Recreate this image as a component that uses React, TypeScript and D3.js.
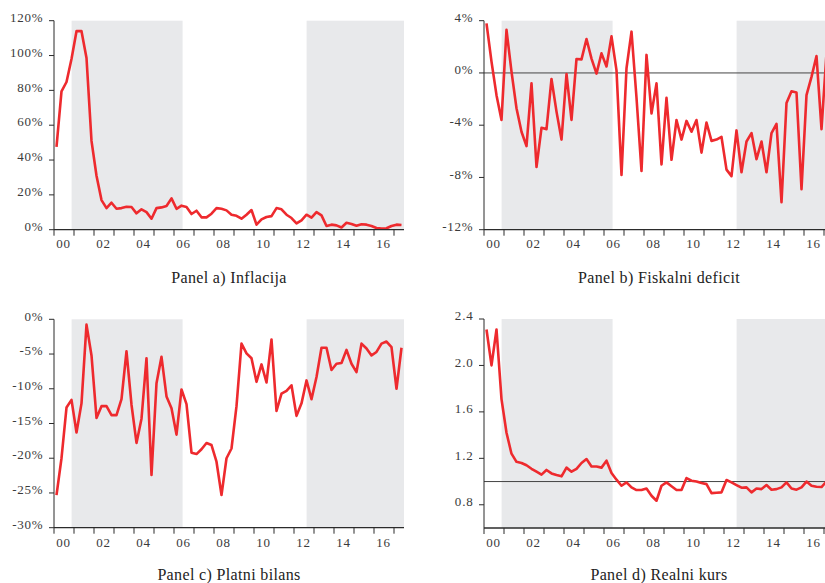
import React from "react";
import * as d3 from "d3";

// Quarterly observations starting 2000Q1
const startYear = 2000;
const yearTicks = d3.range(2000, 2018);
const yearLabels = ["00", "02", "04", "06", "08", "10", "12", "14", "16"];
const shadedPeriods: [number, number][] = [
  [2000.88, 2006.43],
  [2012.63, 2017.5],
];

const inflation = [47.5, 79.4, 84.8, 98, 114, 114, 98.6, 51, 31, 17, 12.4, 15.5, 12, 12.4, 13.2, 13, 9.4, 11.7, 10.1, 6.3, 12.4, 12.8, 13.6, 18, 12, 13.8, 13, 9, 10.9, 7.1, 7.1, 9.2, 12.4, 12, 11.1, 8.6, 8, 6.3, 8.6, 11.3, 2.9, 5.9, 7.3, 7.8, 12.4, 11.7, 8.6, 6.7, 3.6, 5.4, 8.6, 6.9, 10.1, 8.2, 2.1, 2.9, 2.5, 1.3, 4, 3.3, 2.3, 3.1, 2.9, 2.1, 1, 0.6, 0.8, 2.1, 2.9, 2.7];
const fiscalDeficit = [3.8, 0.87, -1.7, -3.6, 3.3, 0.1, -2.7, -4.5, -5.6, -0.8, -7.2, -4.2, -4.3, -0.46, -2.96, -5.1, -0.08, -3.6, 1.07, 1.04, 2.6, 1.1, -0.05, 1.5, 0.5, 2.8, 0.2, -7.8, 0.36, 3.16, -1.9, -7.5, 1.38, -3.1, -0.8, -7.0, -1.9, -6.65, -3.6, -5.1, -3.67, -4.5, -3.6, -6.1, -3.8, -5.2, -5.1, -4.9, -7.4, -7.9, -4.4, -7.6, -5.25, -4.6, -6.6, -5.25, -7.6, -4.6, -3.9, -9.9, -2.3, -1.4, -1.5, -8.9, -1.7, -0.3, 1.3, -4.3, 1.5];
const currentAccount = [-25.3, -20, -12.7, -11.6, -16.3, -12.1, -0.77, -5.2, -14.2, -12.5, -12.5, -13.8, -13.8, -11.5, -4.6, -12.3, -17.8, -14.3, -5.6, -22.4, -9.2, -5.4, -11.1, -12.8, -16.6, -10.1, -12.2, -19.2, -19.4, -18.7, -17.8, -18.1, -20.5, -25.3, -20, -18.6, -12.5, -3.5, -4.9, -5.6, -9.0, -6.5, -9.1, -2.9, -13.2, -10.7, -10.3, -9.5, -13.9, -12.1, -8.8, -11.5, -8.3, -4.1, -4.1, -7.3, -6.4, -6.3, -4.4, -6.4, -7.6, -3.5, -4.2, -5.2, -4.7, -3.5, -3.2, -4.0, -10.0, -4.1];
const realExchangeRate = [2.31, 2.0, 2.31, 1.71, 1.42, 1.24, 1.17, 1.16, 1.14, 1.11, 1.085, 1.06, 1.1, 1.07, 1.056, 1.045, 1.12, 1.085, 1.11, 1.16, 1.194, 1.13, 1.13, 1.12, 1.18, 1.073, 1.016, 0.964, 0.993, 0.95, 0.927, 0.927, 0.94, 0.878, 0.835, 0.964, 0.993, 0.96, 0.927, 0.927, 1.03, 1.007, 1.0, 0.987, 0.978, 0.9, 0.904, 0.907, 1.013, 0.993, 0.97, 0.947, 0.95, 0.907, 0.94, 0.935, 0.97, 0.93, 0.935, 0.95, 0.993, 0.94, 0.93, 0.95, 1.0, 0.964, 0.955, 0.953, 1.0];

const ticksA = [0, 20, 40, 60, 80, 100, 120];
const ticksB = [-12, -8, -4, 0, 4];
const ticksC = [-30, -25, -20, -15, -10, -5, 0];
const ticksD = [0.8, 1.2, 1.6, 2.0, 2.4];

const titles = ["Panel a) Inflacija", "Panel b) Fiskalni deficit", "Panel c) Platni bilans", "Panel d) Realni kurs"];

type PanelDef = {
  x0: number; x1: number; yTop: number; yBot: number;
  domain: [number, number]; ticks: number[]; fmt: (v: number) => string;
  data: number[]; title: string; ref?: number; labelY: number; titleY: number;
};

const pct = (v: number) => `${v}%`;

const panels: PanelDef[] = [
  { x0: 54, x1: 404, yTop: 20.7, yBot: 229.7, domain: [0, 120], ticks: ticksA, fmt: pct, data: inflation, title: titles[0], labelY: 248.3, titleY: 282.5 },
  { x0: 484, x1: 834, yTop: 20.7, yBot: 229.7, domain: [-12, 4], ticks: ticksB, fmt: pct, data: fiscalDeficit, title: titles[1], ref: 0, labelY: 248.3, titleY: 282.5 },
  { x0: 54, x1: 404, yTop: 319.3, yBot: 527.7, domain: [-30, 0], ticks: ticksC, fmt: pct, data: currentAccount, title: titles[2], labelY: 546.5, titleY: 579.8 },
  { x0: 484, x1: 834, yTop: 319, yBot: 528, domain: [0.6, 2.4], ticks: ticksD, fmt: (v) => v.toFixed(1), data: realExchangeRate, title: titles[3], ref: 1, labelY: 546.5, titleY: 579.8 },
];

const TEXT = "#3a3a3a";
const AXIS = "#2b2b2b";
const RED = "#ee2a2e";
const SHADE = "#e8e9eb";
const FONT = "'Liberation Serif', 'Times New Roman', serif";

function Panel({ p }: { p: PanelDef }) {
  const x = d3.scaleLinear().domain([2000, 2017.5]).range([p.x0, p.x1]);
  const y = d3.scaleLinear().domain(p.domain).range([p.yBot, p.yTop]);
  const line = d3
    .line<number>()
    .x((_, i) => x(startYear + (i + 0.5) / 4))
    .y((d) => y(d));
  const cx = (p.x0 + p.x1) / 2;
  return (
    <g>
      {shadedPeriods.map(([a, b], i) => (
        <rect key={i} x={x(a)} y={p.yTop} width={x(b) - x(a)} height={p.yBot - p.yTop} fill={SHADE} />
      ))}
      {p.ref !== undefined && (
        <line x1={p.x0} x2={p.x1} y1={y(p.ref)} y2={y(p.ref)} stroke="#444" strokeWidth={1} />
      )}
      <path d={line(p.data) || ""} fill="none" stroke={RED} strokeWidth={2.6} strokeLinejoin="round" />
      {/* y axis */}
      <line x1={p.x0} x2={p.x0} y1={p.yTop} y2={p.yBot} stroke={AXIS} strokeWidth={1} />
      {p.ticks.map((t) => (
        <g key={t}>
          <line x1={p.x0 - 5} x2={p.x0} y1={y(t)} y2={y(t)} stroke={AXIS} strokeWidth={1} />
          <text x={p.x0 - 10.5} y={y(t) + 1.2} textAnchor="end" fontSize={13} letterSpacing={0.8} fill={TEXT} fontFamily={FONT}>
            {p.fmt(t)}
          </text>
        </g>
      ))}
      {/* x axis */}
      <line x1={p.x0} x2={p.x1} y1={p.yBot} y2={p.yBot} stroke={AXIS} strokeWidth={1.3} />
      {yearTicks.map((t) => (
        <line key={t} x1={x(t)} x2={x(t)} y1={p.yBot} y2={p.yBot + 6} stroke={AXIS} strokeWidth={1} />
      ))}
      {yearLabels.map((lab, i) => (
        <text key={lab} x={x(2000 + 2 * i + 0.48)} y={p.labelY} textAnchor="middle" fontSize={13} letterSpacing={0.8} fill={TEXT} fontFamily={FONT}>
          {lab}
        </text>
      ))}
      <text x={cx} y={p.titleY} textAnchor="middle" fontSize={16} letterSpacing={0.35} fill="#222" fontFamily={FONT}>
        {p.title}
      </text>
    </g>
  );
}

export default function App() {
  return (
    <svg
      width={825}
      height={583}
      style={{ position: "absolute", left: 0, top: 0, background: "#fff", overflow: "hidden" }}
    >
      <rect x={0} y={0} width={825} height={583} fill="#fff" />
      {panels.map((p, i) => (
        <Panel key={i} p={p} />
      ))}
    </svg>
  );
}
